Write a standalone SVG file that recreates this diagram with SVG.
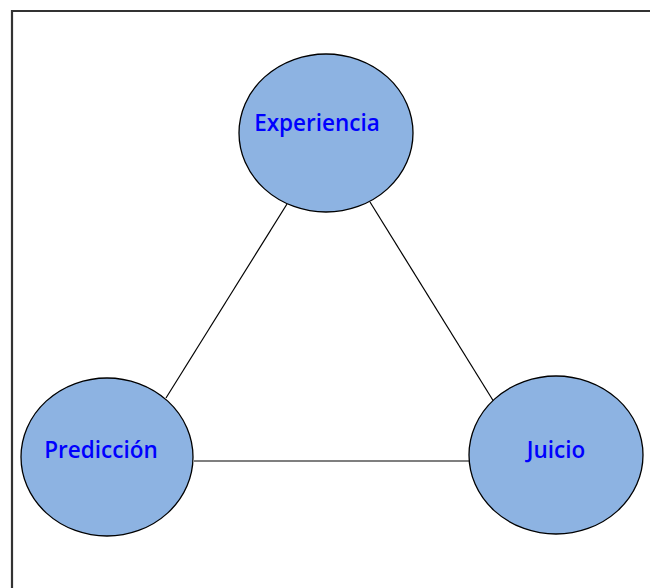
<svg xmlns="http://www.w3.org/2000/svg" width="650" height="588" viewBox="0 0 650 588">
<style>
.node{fill:#8db3e2;stroke:#000;stroke-width:1.3}
.lbl{font-family:"Open Sans","Noto Sans",sans-serif;font-weight:600;font-size:22.5px;fill:#0000ff}
.edge{stroke:#000;stroke-width:1.2;fill:none}
</style>
<rect x="0" y="0" width="650" height="588" fill="#fff"/>
<path d="M12 588 V11 H650" fill="none" stroke="#333" stroke-width="2.2"/>
<g id="connectors">
<line class="edge" x1="287" y1="204" x2="166" y2="398"/>
<line class="edge" x1="370" y1="202" x2="494" y2="402"/>
<line class="edge" x1="194" y1="461" x2="469" y2="461"/>
</g>
<g id="experiencia">
<ellipse class="node" cx="326" cy="133" rx="87" ry="79"/>
<text class="lbl" x="317" y="131" text-anchor="middle">Experiencia</text>
</g>
<g id="prediccion">
<ellipse class="node" cx="107" cy="457" rx="86" ry="79"/>
<text class="lbl" x="101" y="458" text-anchor="middle">Predicción</text>
</g>
<g id="juicio">
<ellipse class="node" cx="556" cy="455" rx="87" ry="79"/>
<text class="lbl" x="556" y="458" text-anchor="middle">Juicio</text>
</g>
</svg>
